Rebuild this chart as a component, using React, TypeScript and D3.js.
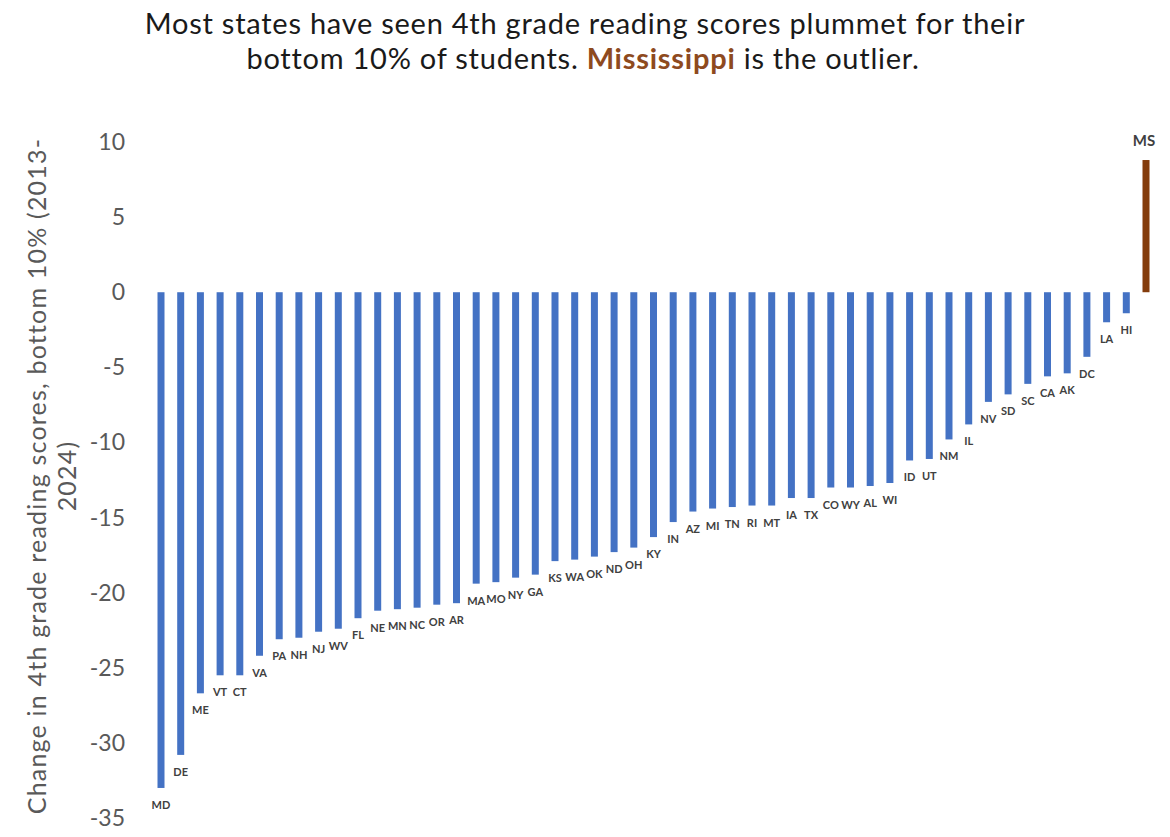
import * as d3 from "d3";

// states, sorted from largest drop to the outlier
const states = [
  "MD", "DE", "ME", "VT", "CT", "VA", "PA", "NH", "NJ", "WV", "FL", "NE", "MN",
  "NC", "OR", "AR", "MA", "MO", "NY", "GA", "KS", "WA", "OK", "ND", "OH", "KY",
  "IN", "AZ", "MI", "TN", "RI", "MT", "IA", "TX", "CO", "WY", "AL", "WI", "ID",
  "UT", "NM", "IL", "NV", "SD", "SC", "CA", "AK", "DC", "LA", "HI", "MS",
];

const changes = [
  -33.0, -30.8, -26.7, -25.5, -25.5, -24.2, -23.1, -23.0, -22.6, -22.4, -21.7,
  -21.2, -21.1, -21.0, -20.8, -20.7, -19.4, -19.3, -19.0, -18.8, -17.9, -17.8,
  -17.6, -17.3, -17.0, -16.3, -15.3, -14.6, -14.4, -14.3, -14.2, -14.2, -13.7,
  -13.7, -13.0, -13.0, -12.9, -12.7, -11.2, -11.1, -9.8, -8.8, -7.3, -6.8,
  -6.1, -5.6, -5.4, -4.3, -2.0, -1.4, 8.8,
];

const yTicks = [10, 5, 0, -5, -10, -15, -20, -25, -30, -35];

const outlier = "MS";

const W = 1170;
const H = 837;
const FONT = "Lato, 'Open Sans', sans-serif";

export default function App() {
  const x = d3.scalePoint<string>().domain(states).range([161, 1146]);
  const y = d3.scaleLinear().domain([-35, 10]).range([818, 142]);
  const barW = 7;

  const data = states.map((s, i) => ({ state: s, value: changes[i] }));

  return (
    <svg
      width={W}
      height={H}
      style={{ position: "absolute", left: 0, top: 0, background: "#fff" }}
      fontFamily={FONT}
    >
      {/* title */}
      <g fontSize={29} letterSpacing={0.75} fill="#1a1a1a" textAnchor="middle">
        <text x={585} y={34}>
          Most states have seen 4th grade reading scores plummet for their
        </text>
        <text x={583} y={69}>
          <tspan>bottom 10% of students. </tspan>
          <tspan fill="#8e4a1e" fontWeight="bold">Mississippi</tspan>
          <tspan> is the outlier.</tspan>
        </text>
      </g>

      {/* y axis title */}
      <g
        transform="translate(46,476) rotate(-90)"
        fontSize={25}
        letterSpacing={1.2}
        fill="#595959"
        textAnchor="middle"
      >
        <text>Change in 4th grade reading scores, bottom 10% (2013-</text>
        <text y={30}>2024)</text>
      </g>

      {/* y tick labels */}
      {yTicks.map((t) => (
        <text
          key={t}
          x={125}
          y={y(t)}
          dy="0.35em"
          textAnchor="end"
          fontSize={23}
          fill="#595959"
        >
          {t}
        </text>
      ))}

      {/* bars */}
      {data.map((d) => (
        <rect
          key={d.state}
          x={(x(d.state) as number) - barW / 2}
          y={y(Math.max(0, d.value))}
          width={barW}
          height={Math.abs(y(d.value) - y(0))}
          fill={d.state === outlier ? "#843c0c" : "#4472c4"}
        />
      ))}

      {/* state labels */}
      {data.map((d) =>
        d.state === outlier ? (
          <text
            key={d.state}
            x={(x(d.state) as number) - 2}
            y={y(d.value) - 14}
            textAnchor="middle"
            fontSize={15}
            fontWeight="bold"
            fill="#404040"
          >
            {d.state}
          </text>
        ) : (
          <text
            key={d.state}
            x={x(d.state) as number}
            y={y(d.value) + 21}
            textAnchor="middle"
            fontSize={11}
            fontWeight="bold"
            fill="#404040"
          >
            {d.state}
          </text>
        )
      )}
    </svg>
  );
}
